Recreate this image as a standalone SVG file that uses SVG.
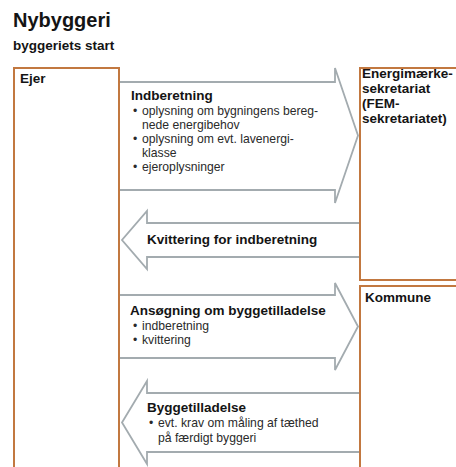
<svg xmlns="http://www.w3.org/2000/svg" width="456" height="467" viewBox="0 0 456 467">
<style>
.box{fill:#fff;stroke:#c27840;stroke-width:2}
.arr{fill:#fff;stroke:#a3abaf;stroke-width:1.8;stroke-linejoin:miter}
.t{font-family:"Liberation Sans",Arial,sans-serif;fill:#141414}
.h{font-weight:bold;font-size:13.5px}
.b{font-size:12.2px;fill:#2a2a2a}
.title{font-weight:bold;font-size:20px}
</style>
<rect width="456" height="467" fill="#fff"/>
<text class="t title" x="13" y="27">Nybyggeri</text>
<text class="t h" x="13" y="50">byggeriets start</text>
<g id="connectors">
<g id="c1">
<polygon class="arr" points="100,82 335,82 335,68 358,135.5 335,203 335,190 100,190"/>
<text class="t h" x="131" y="100">Indberetning</text>
<text class="t b" x="133" y="114.5">•</text><text class="t b" x="142" y="114.5">oplysning om bygningens bereg-</text>
<text class="t b" x="142" y="128.5">nede energibehov</text>
<text class="t b" x="133" y="143">•</text><text class="t b" x="142" y="143">oplysning om evt. lavenergi-</text>
<text class="t b" x="142" y="157">klasse</text>
<text class="t b" x="133" y="171">•</text><text class="t b" x="142" y="171">ejeroplysninger</text>
</g>
<g id="c2">
<polygon class="arr" points="380,223 147,223 147,211 122,240 147,269 147,257 380,257"/>
<text class="t h" x="147" y="244">Kvittering for indberetning</text>
</g>
<g id="c3">
<polygon class="arr" points="100,295 335,295 335,283 358,326.5 335,370 335,358 100,358"/>
<text class="t h" x="130" y="315">Ansøgning om byggetilladelse</text>
<text class="t b" x="133" y="330">•</text><text class="t b" x="142" y="330">indberetning</text>
<text class="t b" x="133" y="344">•</text><text class="t b" x="142" y="344">kvittering</text>
</g>
<g id="c4">
<polygon class="arr" points="380,393 147,393 147,381 122,422.5 147,464 147,452 380,452"/>
<text class="t h" x="147" y="412">Byggetilladelse</text>
<text class="t b" x="149" y="427">•</text><text class="t b" x="158" y="427">evt. krav om måling af tæthed</text>
<text class="t b" x="158" y="441.5">på færdigt byggeri</text>
</g>
</g>
<g id="ejer">
<rect class="box" x="14" y="68" width="105" height="420"/>
<text class="t h" x="20" y="83">Ejer</text>
</g>
<g id="fem">
<rect class="box" x="360" y="68" width="120" height="212"/>
<text class="t h" x="362" y="78">Energimærke-</text>
<text class="t h" x="362" y="93">sekretariat</text>
<text class="t h" x="362" y="108">(FEM-</text>
<text class="t h" x="362" y="123">sekretariatet)</text>
</g>
<g id="kommune">
<rect class="box" x="360" y="286" width="120" height="200"/>
<text class="t h" x="365" y="302">Kommune</text>
</g>
</svg>
